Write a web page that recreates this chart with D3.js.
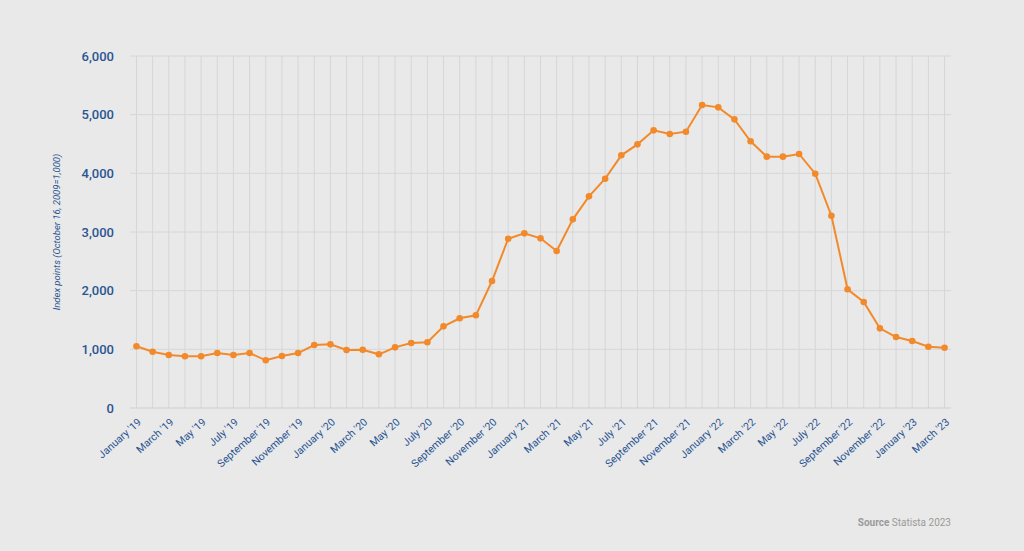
<!DOCTYPE html>
<html>
<head>
<meta charset="utf-8">
<script src="https://cdn.jsdelivr.net/npm/d3@7"></script>
<style>
  body { margin: 0; background: #e9e9e9; }
  svg { display: block; }
</style>
</head>
<body>
<svg width="1024" height="551"></svg>
<script>
// months Jan '19 .. Mar '23
const monthNames = ["January", "February", "March", "April", "May", "June", "July",
    "August", "September", "October", "November", "December"];
const years = ["19", "20", "21", "22", "23"];

// index points
const values = [
    1052, 960, 903, 881, 881, 937, 903, 937, 813, 886, 937, 1074,
    1085, 989, 994, 915, 1034, 1108, 1120, 1392, 1529, 1580, 2165, 2886,
    2977, 2892, 2676, 3216, 3608, 3908, 4307, 4494, 4733, 4670, 4710, 5165,
    5125, 4920, 4546, 4284, 4284, 4330, 3994, 3278, 2023, 1807, 1358, 1210,
    1142, 1045, 1028
];
const yTicks = [0, 1000, 2000, 3000, 4000, 5000, 6000];

let categories = [];
for (let i = 0; i < values.length; i++) {
    categories.push(monthNames[i % 12] + " '" + years[Math.floor(i / 12)]);
}
const data = categories.map((c, i) => ({ label: c, value: values[i] }));

const svg = d3.select("svg");
const plotLeft = 130, plotRight = 951, plotTop = 56, plotBottom = 408;

const x = d3.scalePoint()
    .domain(categories)
    .range([plotLeft, plotRight])
    .padding(0.4);
const y = d3.scaleLinear()
    .domain([0, 6000])
    .range([plotBottom, plotTop]);

// vertical grid, one per month
svg.append("g")
    .selectAll("line")
    .data(categories)
    .join("line")
    .attr("x1", d => x(d)).attr("x2", d => x(d))
    .attr("y1", plotTop).attr("y2", plotBottom)
    .attr("stroke", "#d6d6d6")
    .attr("stroke-width", 1);

// horizontal grid
svg.append("g")
    .selectAll("line")
    .data(yTicks)
    .join("line")
    .attr("x1", plotLeft).attr("x2", plotRight)
    .attr("y1", d => y(d)).attr("y2", d => y(d))
    .attr("stroke", d => d === 0 ? "#cfcfcf" : "#d6d6d6")
    .attr("stroke-width", 1);

// y axis labels
const yAxis = svg.append("g")
    .attr("transform", `translate(${plotLeft - 13},0)`)
    .call(d3.axisLeft(y).tickValues(yTicks).tickSize(0).tickFormat(d3.format(",")));
yAxis.select(".domain").remove();
yAxis.selectAll("text")
    .attr("fill", "#2a5592")
    .style("font-family", "Roboto, sans-serif")
    .style("font-weight", "500")
    .style("font-size", "13px");

// y title
svg.append("text")
    .attr("transform", "translate(60,232) rotate(-90)")
    .attr("text-anchor", "middle")
    .attr("fill", "#2a5592")
    .style("font-family", "Roboto, sans-serif")
    .style("font-size", "9.5px")
    .style("font-style", "italic")
    .text("Index points (October 16, 2009=1,000)");

// x axis labels, every second month
const xAxis = svg.append("g")
    .attr("transform", `translate(0,${plotBottom})`)
    .call(d3.axisBottom(x)
        .tickValues(categories.filter((d, i) => i % 2 === 0))
        .tickSize(0));
xAxis.select(".domain").remove();
xAxis.selectAll("text")
    .attr("fill", "#2a5592")
    .style("font-family", "Roboto, sans-serif")
    .style("font-size", "10.5px")
    .attr("text-anchor", "end")
    .attr("dy", null)
    .attr("y", 0)
    .attr("transform", "translate(5,15) rotate(-42)");

// line
const line = d3.line()
    .x(d => x(d.label))
    .y(d => y(d.value));

svg.append("path")
    .datum(data)
    .attr("d", line)
    .attr("fill", "none")
    .attr("stroke", "#f28a2b")
    .attr("stroke-width", 2);

svg.append("g")
    .selectAll("circle")
    .data(data)
    .join("circle")
    .attr("cx", d => x(d.label))
    .attr("cy", d => y(d.value))
    .attr("r", 3.3)
    .attr("fill", "#f28a2b");

// source
const src = svg.append("text")
    .attr("x", 951)
    .attr("y", 526)
    .attr("text-anchor", "end")
    .attr("fill", "#9a9a9a")
    .style("font-family", "Roboto, sans-serif")
    .style("font-size", "10px");
src.append("tspan").attr("font-weight", "bold").text("Source");
src.append("tspan").text("  Statista 2023");
</script>
</body>
</html>
